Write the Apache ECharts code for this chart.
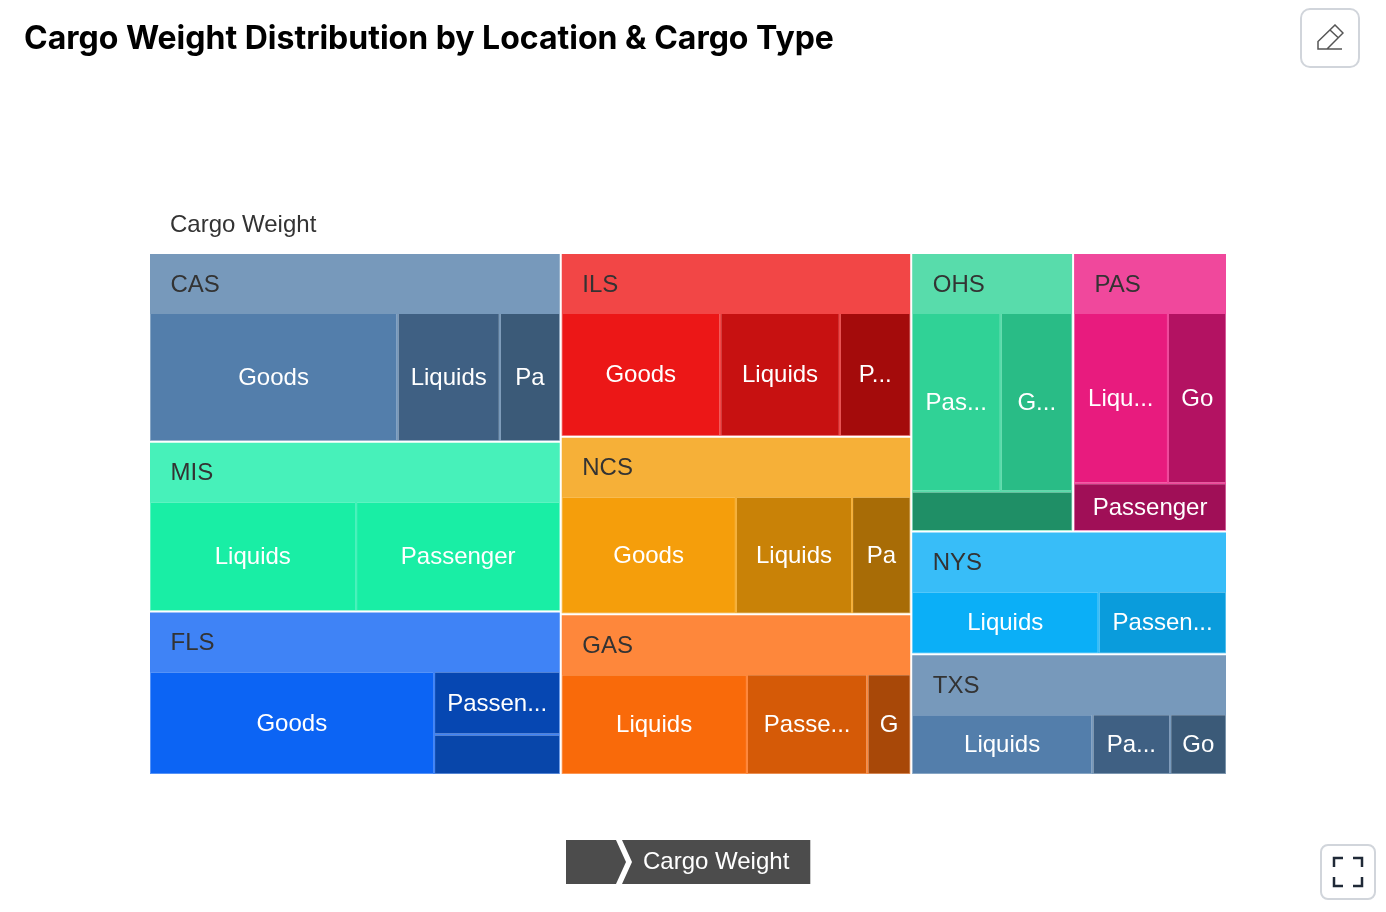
<!DOCTYPE html>
<html lang="en">

<head>
  <meta charset="utf-8" />
  <title>Cargo Weight Distribution</title>
  <style>
    html, body { margin: 0; padding: 0; background: #fff; overflow: hidden; }
    /* chart is laid out at half size and doubled, the canvas keeps 1:1 pixels */
    #chart { position: absolute; left: 0; top: 0; width: 693px; height: 456px; transform: scale(2); transform-origin: 0 0; }
    h1 {
      position: absolute; left: 24px; top: 18px; margin: 0;
      font: 700 32px/40px Inter, sans-serif; color: #000; white-space: nowrap;
    }
    .btn {
      position: absolute; box-sizing: border-box; background: #fff;
      border: 2px solid #d1d5db; border-radius: 10px;
      display: flex; align-items: center; justify-content: center;
    }
    #edit { left: 1300px; top: 8px; width: 60px; height: 60px; }
    #full { left: 1320px; top: 844px; width: 56px; height: 56px; border-radius: 8px; }
  </style>
</head>

<body>
  <div id="chart"></div>
  <h1>Cargo Weight Distribution by Location &amp; Cargo Type</h1>
  <div class="btn" id="edit">
    <svg width="28" height="28" viewBox="0 0 28 28" fill="none" stroke="#555" stroke-width="1.5">
      <path d="M2 25V17.5L19 1L27 9L11 25H2ZM14 6L22 13.5M11 25H26" />
    </svg>
  </div>
  <div class="btn" id="full">
    <svg width="32" height="32" viewBox="0 0 32 32" fill="none" stroke="#1f2937" stroke-width="2.5">
      <path d="M2 11V2H11M21 2H30V11M2 21V30H11M30 21V30H21" />
    </svg>
  </div>

  <script src="https://cdn.jsdelivr.net/npm/echarts@6/dist/echarts.min.js"></script>
  <script>
    var rootName = 'Cargo Weight';

    var locations = ['CAS', 'MIS', 'FLS', 'ILS', 'NCS', 'GAS', 'OHS', 'PAS', 'NYS', 'TXS'];

    var cargoTypes = {
      CAS: ['Goods', 'Liquids', 'Passenger'],
      MIS: ['Liquids', 'Passenger'],
      FLS: ['Goods', 'Passenger', 'Liquids'],
      ILS: ['Goods', 'Liquids', 'Passenger'],
      NCS: ['Goods', 'Liquids', 'Passenger'],
      GAS: ['Liquids', 'Passenger', 'Goods'],
      OHS: ['Passenger', 'Goods', 'Liquids'],
      PAS: ['Liquids', 'Goods', 'Passenger'],
      NYS: ['Liquids', 'Passenger'],
      TXS: ['Liquids', 'Passenger', 'Goods']
    };

    var weights = {
      CAS: [46560, 19190, 11340],
      MIS: [34845, 34445],
      FLS: [46300, 12560, 7970],
      ILS: [29050, 21860, 12950],
      NCS: [30877, 20528, 10365],
      GAS: [29680, 19250, 6920],
      OHS: [20295, 16339, 8100],
      PAS: [20485, 12700, 9350],
      NYS: [22850, 15600],
      TXS: [21710, 9330, 6760]
    };

    // header colour of each location, then the shades of its cells
    var headerColors = {
      CAS: '#7799bb', MIS: '#47f1ba', FLS: '#3f83f6', ILS: '#f24646', NCS: '#f6b038',
      GAS: '#fe873b', OHS: '#58dcab', PAS: '#f0489c', NYS: '#38bdf8', TXS: '#7799bb'
    };
    var cellColors = {
      CAS: ['#537eab', '#3f6083', '#3b5a78'],
      MIS: ['#19eea5', '#19eea5'],
      FLS: ['#0c64f4', '#0647b2', '#0846aa'],
      ILS: ['#ec1717', '#c71111', '#a40b0b'],
      NCS: ['#f59e0b', '#c98207', '#a86c06'],
      GAS: ['#f96a0a', '#d55a07', '#a84808'],
      OHS: ['#30d296', '#29bc86', '#1f8f66'],
      PAS: ['#e81b7e', '#b31262', '#a00f57'],
      NYS: ['#0baff7', '#0a9cdc'],
      TXS: ['#537eab', '#3f6083', '#3b5a78']
    };

    var locationNodes = locations.map(function (loc) {
      return {
        name: loc,
        itemStyle: { borderColor: headerColors[loc] },
        children: cargoTypes[loc].map(function (type, i) {
          return {
            name: type,
            value: weights[loc][i],
            itemStyle: { color: cellColors[loc][i] }
          };
        })
      };
    });

    var myChart = echarts.init(document.getElementById('chart'), null, { devicePixelRatio: 2 });

    myChart.setOption({
      animation: false,
      series: [{
        type: 'treemap',
        name: '',
        left: 75,
        top: 97,
        width: 538,
        height: 290,
        roam: false,
        nodeClick: false,
        label: {
          show: true,
          color: '#fff',
          fontSize: 12,
          fontFamily: 'Liberation Sans',
          padding: 5,
          offset: [0, 0.5],
          overflow: 'truncate',
          position: 'inside',
          align: 'center',
          verticalAlign: 'middle'
        },
        upperLabel: {
          show: true,
          height: 30,
          color: '#333',
          fontSize: 12,
          fontFamily: 'Liberation Sans',
          padding: [0, 10],
          offset: [0, 0.5]
        },
        levels: [
          { upperLabel: { show: false }, itemStyle: { borderWidth: 0, gapWidth: 0 } },
          { itemStyle: { borderWidth: 0, gapWidth: 1, borderColor: '#fff' } },
          { itemStyle: { borderWidth: 0.25, gapWidth: 1 } },
          { itemStyle: { borderWidth: 0 } }
        ],
        breadcrumb: {
          show: true,
          left: 283,
          bottom: 14,
          height: 22,
          itemStyle: {
            color: 'rgba(0,0,0,0.7)',
            textStyle: { color: '#fff', fontSize: 12, fontFamily: 'Liberation Sans' }
          }
        },
        data: [{ name: rootName, children: locationNodes }]
      }]
    });
  </script>
</body>

</html>
